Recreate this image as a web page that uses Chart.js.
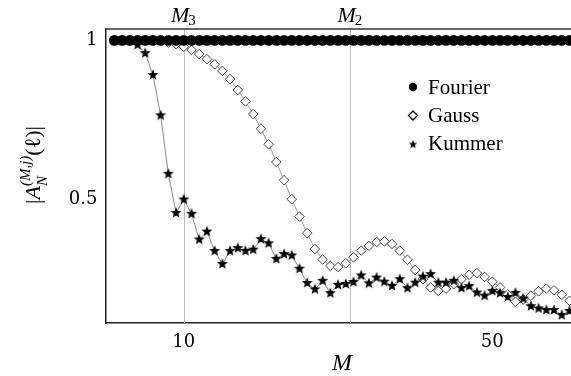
<!DOCTYPE html>
<html>
<head>
<meta charset="utf-8">
<script src="https://cdn.jsdelivr.net/npm/chart.js@4"></script>
<style>
  html, body { margin: 0; padding: 0; background: #fff; overflow: hidden; }
  #chart { display: block; }
</style>
</head>
<body>
<canvas id="chart" width="571" height="376"></canvas>
<script>
const mValues = [1,2,3,4,5,6,7,8,9,10,11,12,13,14,15,16,17,18,19,20,
  21,22,23,24,25,26,27,28,29,30,31,32,33,34,35,36,37,38,39,40,
  41,42,43,44,45,46,47,48,49,50,51,52,53,54,55,56,57,58,59,60];
const fourier = [1,1,1,1,1,1,1,1,1,1,1,1,1,1,1,1,1,1,1,1,
  1,1,1,1,1,1,1,1,1,1,1,1,1,1,1,1,1,1,1,1,
  1,1,1,1,1,1,1,1,1,1,1,1,1,1,1,1,1,1,1,1];
const gauss = [1,1,1,1,1,1,1,0.993,0.988,0.98,0.97,0.957,0.941,0.925,0.904,0.878,0.844,0.808,0.768,0.722,
  0.673,0.617,0.56,0.5,0.445,0.393,0.343,0.31,0.29,0.286,0.298,0.317,0.338,0.353,0.365,0.367,0.359,0.338,0.309,0.277,
  0.248,0.222,0.211,0.218,0.232,0.248,0.262,0.267,0.255,0.24,0.222,0.2,0.177,0.184,0.196,0.21,0.218,0.213,0.199,0.18];
const kummer = [1,1,1,0.986,0.96,0.891,0.764,0.58,0.457,0.499,0.454,0.373,0.398,0.337,0.296,0.337,0.346,0.337,0.341,0.374,
  0.361,0.312,0.327,0.323,0.281,0.236,0.216,0.243,0.204,0.23,0.233,0.239,0.26,0.235,0.253,0.24,0.227,0.248,0.22,0.237,
  0.256,0.264,0.237,0.237,0.243,0.22,0.226,0.206,0.196,0.211,0.204,0.192,0.205,0.187,0.163,0.156,0.151,0.151,0.135,0.148];
const xTicks = [10, 50];
const yTicks = [0.5, 1];
const markers = [{ name: 'M', sub: '3', at: 10 }, { name: 'M', sub: '2', at: 31.6 }];
const seriesNames = ['Fourier', 'Gauss', 'Kummer'];

const TIMES = '"Liberation Serif", serif';

// filled five-point star for Kummer
function makeStar(r) {
  const c = document.createElement('canvas');
  const s = Math.ceil(r * 2 + 2);
  c.width = s; c.height = s;
  const g = c.getContext('2d');
  g.translate(s / 2, s / 2);
  g.beginPath();
  for (let i = 0; i < 10; i++) {
    const rad = i % 2 === 0 ? r : r * 0.42;
    const a = -Math.PI / 2 + i * Math.PI / 5;
    g.lineTo(Math.cos(a) * rad, Math.sin(a) * rad);
  }
  g.closePath();
  g.fillStyle = '#000';
  g.fill();
  return c;
}
const star = makeStar(5.8);
const starSmall = makeStar(4.6);

const toXY = (ys) => mValues.map((m, i) => ({ x: m, y: ys[i] }));

const extras = {
  id: 'extras',
  beforeDatasetsDraw(chart) {
    const { ctx, chartArea: a, scales: { x } } = chart;
    ctx.save();
    ctx.strokeStyle = '#bdbdbd';
    ctx.lineWidth = 1;
    markers.forEach(mk => {
      const px = Math.round(x.getPixelForValue(mk.at)) + 0.5;
      ctx.beginPath();
      ctx.moveTo(px, a.top);
      ctx.lineTo(px, a.bottom);
      ctx.stroke();
    });
    ctx.restore();
  },
  afterDraw(chart) {
    const { ctx, chartArea: a, scales: { x } } = chart;
    ctx.save();
    // top frame
    ctx.strokeStyle = '#333';
    ctx.lineWidth = 1.5;
    ctx.beginPath();
    ctx.moveTo(a.left, a.top);
    ctx.lineTo(chart.width, a.top);
    ctx.stroke();

    ctx.fillStyle = '#000';
    ctx.textBaseline = 'alphabetic';
    // M3 / M2 labels
    markers.forEach(mk => {
      const px = x.getPixelForValue(mk.at);
      ctx.font = 'italic 22px ' + TIMES;
      const w1 = ctx.measureText(mk.name).width;
      ctx.font = '15px ' + TIMES;
      const w2 = ctx.measureText(mk.sub).width;
      const left = px - (w1 + w2) / 2;
      ctx.font = 'italic 22px ' + TIMES;
      ctx.textAlign = 'left';
      ctx.fillText(mk.name, left, 22);
      ctx.font = '15px ' + TIMES;
      ctx.fillText(mk.sub, left + w1 - 1, 25);
    });

    // x title
    ctx.font = 'italic 24px ' + TIMES;
    ctx.textAlign = 'center';
    ctx.fillText('M', 342, 370);

    // y title, rotated
    ctx.save();
    ctx.translate(40, 165);
    ctx.rotate(-Math.PI / 2);
    const parts = [
      { t: '|', f: '22px ' + TIMES, dy: 0 },
      { t: 'A', f: 'italic 22px ' + TIMES, dy: 0 },
      { t: '(M,j)', f: 'italic 15px ' + TIMES, dy: -10, sub: 'N' },
      { t: '(ℓ)|', f: '22px ' + TIMES, dy: 0 }
    ];
    let total = 0;
    parts.forEach(p => { ctx.font = p.f; p.w = ctx.measureText(p.t).width; total += p.w; });
    let cx = -total / 2;
    ctx.textAlign = 'left';
    parts.forEach(p => {
      ctx.font = p.f;
      ctx.fillText(p.t, cx, p.dy);
      if (p.sub) ctx.fillText(p.sub, cx, 7);
      cx += p.w;
    });
    ctx.restore();

    // legend
    const lx = 413, rows = [87, 115.5, 143.5];
    ctx.font = '21px ' + TIMES;
    ctx.textAlign = 'left';
    ctx.textBaseline = 'middle';
    rows.forEach((ry, i) => {
      if (i === 0) {
        ctx.beginPath();
        ctx.arc(lx, ry, 4.2, 0, Math.PI * 2);
        ctx.fill();
      } else if (i === 1) {
        ctx.beginPath();
        ctx.moveTo(lx, ry - 4.5); ctx.lineTo(lx + 4.5, ry);
        ctx.lineTo(lx, ry + 4.5); ctx.lineTo(lx - 4.5, ry);
        ctx.closePath();
        ctx.lineWidth = 1.3;
        ctx.strokeStyle = '#000';
        ctx.stroke();
      } else {
        ctx.drawImage(starSmall, lx - starSmall.width / 2, ry - starSmall.height / 2 + 1);
      }
      ctx.fillText(seriesNames[i], lx + 15, ry + 1);
    });
    ctx.restore();
  }
};

new Chart(document.getElementById('chart'), {
  type: 'line',
  data: {
    datasets: [
      {
        label: seriesNames[0],
        data: toXY(fourier),
        showLine: false,
        pointStyle: 'circle',
        pointRadius: 5.4,
        backgroundColor: '#000',
        borderColor: '#000',
        borderWidth: 0
      },
      {
        label: seriesNames[2],
        data: toXY(kummer),
        borderColor: '#8a8a8a',
        borderWidth: 1,
        pointStyle: star,
        pointRadius: 5,
        pointBackgroundColor: '#000',
        pointBorderColor: '#000'
      },
      {
        label: seriesNames[1],
        data: toXY(gauss),
        borderColor: '#999',
        borderWidth: 1,
        pointStyle: 'rectRot',
        pointRadius: 4.8,
        pointBackgroundColor: '#fff',
        pointBorderColor: '#444',
        pointBorderWidth: 1
      }
    ]
  },
  options: {
    responsive: false,
    animation: false,
    events: [],
    layout: { autoPadding: false, padding: { top: 29, right: 0, left: 0, bottom: 0 } },
    plugins: { legend: { display: false }, tooltip: { enabled: false } },
    scales: {
      x: {
        type: 'linear',
        min: -0.15,
        max: 60.2,
        afterBuildTicks: s => { s.ticks = xTicks.map(v => ({ value: v })); },
        afterFit: s => { s.height = 53; s.paddingRight = 0; s.paddingLeft = 0; },
        grid: { display: true, drawOnChartArea: false, tickLength: 0 },
        border: { display: true, color: '#222', width: 1.5 },
        ticks: { color: '#000', font: { family: 'DejaVu Serif', size: 18 }, padding: 9, maxRotation: 0 }
      },
      y: {
        min: 0.11,
        max: 1.036,
        afterBuildTicks: s => { s.ticks = yTicks.map(v => ({ value: v })); },
        afterFit: s => { s.width = 105.5; s.paddingTop = 0; s.paddingBottom = 0; },
        grid: { display: true, drawOnChartArea: false, tickLength: 0 },
        border: { display: true, color: '#222', width: 1.5 },
        ticks: { color: '#000', font: { family: 'DejaVu Serif', size: 18 }, padding: 8, callback: v => String(v) }
      }
    }
  },
  plugins: [extras]
});
</script>
</body>
</html>
